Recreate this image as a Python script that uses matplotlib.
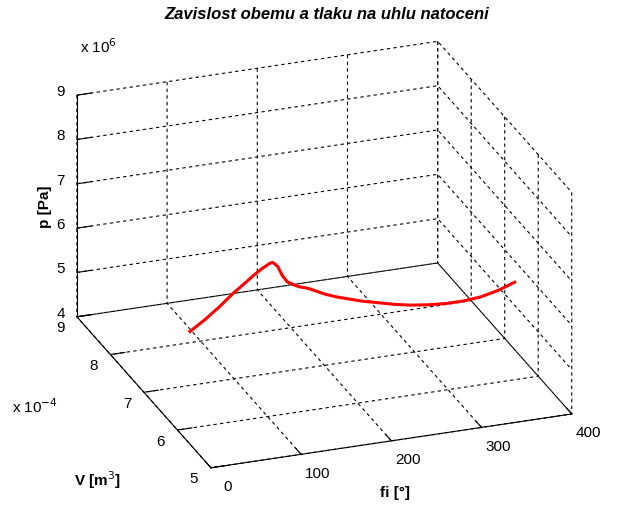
import matplotlib
matplotlib.use('Agg')
import matplotlib.pyplot as plt
from matplotlib.transforms import ScaledTranslation
import numpy as np

# crank angle [deg], cylinder volume [x 1e-4 m^3], pressure [x 1e6 Pa]
fi = [0, 10, 20, 30, 40, 50, 60, 65, 70, 75, 80, 85, 90, 95, 100, 110, 120, 130,
      140, 150, 160, 170, 180, 190, 200, 210, 220, 230, 240, 250, 260, 270, 280,
      290, 300, 310, 320, 330, 340, 350, 360]
V = [5.627, 5.435, 5.278, 5.159, 5.083, 5.051, 5.065, 5.088, 5.123, 5.169, 5.226,
     5.292, 5.368, 5.453, 5.546, 5.755, 5.988, 6.238, 6.498, 6.759, 7.014, 7.254,
     7.474, 7.665, 7.822, 7.941, 8.017, 8.049, 8.035, 7.977, 7.874, 7.732, 7.554,
     7.345, 7.112, 6.862, 6.602, 6.341, 6.087, 5.846, 5.627]
p = [6.54, 6.95, 7.34, 7.70, 7.96, 8.16, 8.27, 8.29, 8.30, 8.26, 8.15, 8.03, 7.86,
     7.70, 7.55, 7.29, 7.02, 6.77, 6.50, 6.24, 5.99, 5.74, 5.51, 5.29, 5.09, 4.93,
     4.81, 4.69, 4.60, 4.56, 4.57, 4.61, 4.70, 4.81, 4.96, 5.15, 5.37, 5.62, 5.90,
     6.22, 6.56]

fi_ticks = [0, 100, 200, 300, 400]
V_ticks = [5, 6, 7, 8, 9]
p_ticks = [4, 5, 6, 7, 8, 9]

plt.rcParams['font.family'] = 'Liberation Sans'
plt.rcParams['font.size'] = 11

fig = plt.figure(figsize=(6.17, 5.11), dpi=100)
ax = fig.add_axes([0.015, 0.014, 1.0, 0.95], projection='3d')
ax.set_proj_type('ortho')
ax.view_init(elev=24.2, azim=-110)
ax.set_box_aspect((384, 392, 243), zoom=1.2)

ax.plot(fi, V, p, color='red', lw=2.2)

ax.set_xlim(0, 400)
ax.set_ylim(5, 9)
ax.set_zlim(4, 9)
ax.set_xticks(fi_ticks)
ax.set_yticks(V_ticks)
ax.set_zticks(p_ticks)

for axis in (ax.xaxis, ax.yaxis, ax.zaxis):
    axis.set_pane_color((1, 1, 1, 0))
    axis.pane.set_edgecolor('none')
    axis.line.set_color('k')
    axis.line.set_linewidth(0.8)
    axis._axinfo['grid'].update(color='k', linewidth=0.8, linestyle=(0, (3, 3)))
    axis._axinfo['tick'].update(inward_factor=0.0, outward_factor=0.5,
                                linewidth={True: 0.8, False: 0.5})

ax.xaxis.set_tick_params(pad=1)
ax.yaxis.set_tick_params(pad=-1)
ax.zaxis.set_tick_params(pad=-2)


def shift_ticklabels(axis, dx, dy):
    # Axis3D resets tick transforms on every draw, so add the pixel offset afterwards
    orig = axis.get_major_ticks
    off = ScaledTranslation(dx / 100, dy / 100, fig.dpi_scale_trans)

    def get_major_ticks(numticks=None):
        ticks = orig(numticks)
        for t in ticks:
            t.label1.set_transform(ax.transData + off)
        return ticks
    axis.get_major_ticks = get_major_ticks


shift_ticklabels(ax.xaxis, 10, 6)
shift_ticklabels(ax.yaxis, -3, 6)
shift_ticklabels(ax.zaxis, 0, 7)

fig.text(0.53, 0.972, 'Zavislost obemu a tlaku na uhlu natoceni',
         fontweight='bold', fontstyle='italic', fontsize=12, ha='center', va='center')
fig.text(0.073, 0.595, 'p [Pa]', rotation=90, fontweight='bold', ha='center', va='center')
fig.text(0.157, 0.061, 'V [m$^3$]', fontweight='bold', ha='center', va='center')
fig.text(0.64, 0.035, 'fi [°]', fontweight='bold', ha='center', va='center')
fig.text(0.159, 0.908, r'x 10$^{6}$', ha='center', va='center')
fig.text(0.057, 0.204, r'x 10$^{-4}$', ha='center', va='center')

fig.savefig('out.png', dpi=100)
